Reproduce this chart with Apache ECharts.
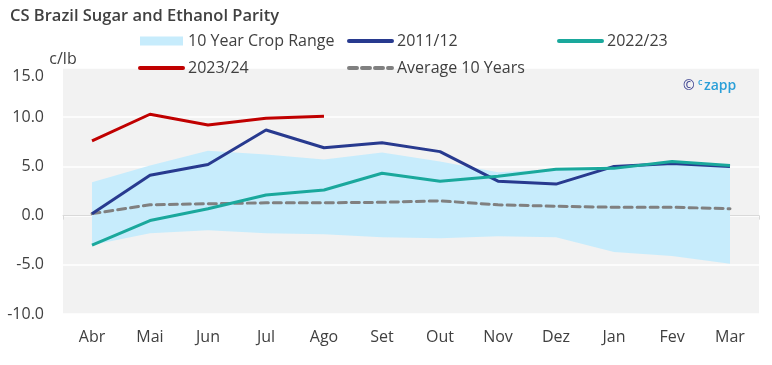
<!DOCTYPE html>
<html>
<head>
<meta charset="utf-8">
<script src="https://cdn.jsdelivr.net/npm/echarts@6/dist/echarts.min.js"></script>
<style>html,body{margin:0;padding:0;background:#fff;}#c{width:772px;height:365px;}</style>
</head>
<body>
<div id="c"></div>
<script>
const categories = ['Abr','Mai','Jun','Jul','Ago','Set','Out','Nov','Dez','Jan','Fev','Mar'];
const rangeLower = [-3.0,-1.8,-1.5,-1.8,-1.9,-2.2,-2.3,-2.1,-2.2,-3.7,-4.1,-4.9];
const rangeUpper = [3.4,5.1,6.6,6.2,5.7,6.4,5.5,4.4,4.7,5.0,5.4,5.1];
const s2011 = [0.2,4.1,5.2,8.7,6.9,7.4,6.5,3.5,3.2,5.0,5.3,5.0];
const s2022 = [-3.0,-0.5,0.7,2.1,2.6,4.3,3.5,4.0,4.7,4.8,5.5,5.1];
const s2023 = [7.6,10.3,9.2,9.9,10.1];
const avg10 = [0.2,1.1,1.2,1.3,1.3,1.35,1.5,1.1,0.95,0.85,0.85,0.7];
const yTicks = {min:-10, max:15, interval:5};

const FONT = '"Open Sans", "Noto Sans", sans-serif';
const TXT = '#404040';
const bandDiff = rangeUpper.map((u,i)=> +(u - rangeLower[i]).toFixed(2));

const chart = echarts.init(document.getElementById('c'));
const legendBase = {
  orient:'vertical', top:33, itemWidth:43, itemHeight:9, itemGap:11, padding:0,
  itemStyle:{opacity:0, borderWidth:0},
  lineStyle:{width:4, cap:'round'},
  textStyle:{fontFamily:FONT, fontSize:16, color:TXT}, selectedMode:false
};
chart.setOption({
  animation:false,
  textStyle:{fontFamily:FONT},
  title:{text:'CS Brazil Sugar and Ethanol Parity', left:10, top:8, padding:0,
    textStyle:{fontFamily:FONT, fontSize:16.5, fontWeight:600, color:TXT}},
  legend:[
    Object.assign({}, legendBase, {left:138, data:[{name:'10 Year Crop Range', icon:'rect', itemStyle:{color:'#c7ecfc', opacity:1}}, '2023/24']}),
    Object.assign({}, legendBase, {left:347, data:['2011/12','Average 10 Years']}),
    Object.assign({}, legendBase, {left:557, data:['2022/23']})
  ],
  grid:{left:63, right:13, top:68, bottom:51, show:true, backgroundColor:'#f2f2f2', borderWidth:0, containLabel:false},
  xAxis:[
    {type:'category', data:categories, position:'bottom', boundaryGap:true,
     axisLine:{show:false, onZero:false}, axisTick:{show:false},
     axisLabel:{fontFamily:FONT, fontSize:16, color:TXT, margin:15}},
    {type:'category', data:categories, position:'top', boundaryGap:true,
     axisLine:{show:true, onZero:true, lineStyle:{color:'#d9d9d9', width:1}},
     axisTick:{show:true, inside:true, length:4, lineStyle:{color:'#d9d9d9'}},
     axisLabel:{show:false}}
  ],
  yAxis:{type:'value', min:yTicks.min, max:yTicks.max, interval:yTicks.interval,
    name:'c/lb', nameLocation:'end', nameGap:1,
    nameTextStyle:{fontFamily:FONT, fontSize:16, color:TXT},
    axisLine:{show:false}, axisTick:{show:false},
    splitLine:{show:true, lineStyle:{color:'#ffffff', width:1.5}},
    axisLabel:{fontFamily:FONT, fontSize:16, color:TXT, margin:19,
      formatter:v=>v.toFixed(1), verticalAlignMaxLabel:'top'}},
  series:[
    {name:'rangeBase', type:'line', data:rangeLower, stack:'band', stackStrategy:'all',
     symbol:'none', lineStyle:{opacity:0, width:0}, silent:true, z:1},
    {name:'10 Year Crop Range', type:'line', data:bandDiff, stack:'band', stackStrategy:'all',
     symbol:'none', lineStyle:{opacity:0, width:0}, itemStyle:{color:'#c7ecfc'},
     areaStyle:{color:'#c7ecfc', opacity:1}, silent:true, z:1},
    {name:'Average 10 Years', type:'line', data:avg10, symbol:'none',
     lineStyle:{color:'#808080', width:3, type:[8,5], cap:'round'}, itemStyle:{color:'#808080'}, z:2},
    {name:'2011/12', type:'line', data:s2011, symbol:'none',
     lineStyle:{color:'#283a8f', width:3}, itemStyle:{color:'#283a8f'}, z:3},
    {name:'2022/23', type:'line', data:s2022, symbol:'none',
     lineStyle:{color:'#1aa89c', width:3}, itemStyle:{color:'#1aa89c'}, z:4},
    {name:'2023/24', type:'line', data:s2023, symbol:'none',
     lineStyle:{color:'#c00000', width:3}, itemStyle:{color:'#c00000'}, z:5}
  ],
  graphic:[
    {type:'text', left:683, top:79, style:{text:'©', fontFamily:FONT, fontSize:14, fill:'#3b4190'}},
    {type:'text', left:698, top:78, style:{text:'c', fontFamily:FONT, fontSize:9, fontWeight:600, fill:'#2a9fd8'}},
    {type:'text', left:704, top:79, style:{text:'zapp', fontFamily:FONT, fontSize:14, fontWeight:600, fill:'#2a9fd8'}}
  ]
});
</script>
</body>
</html>
